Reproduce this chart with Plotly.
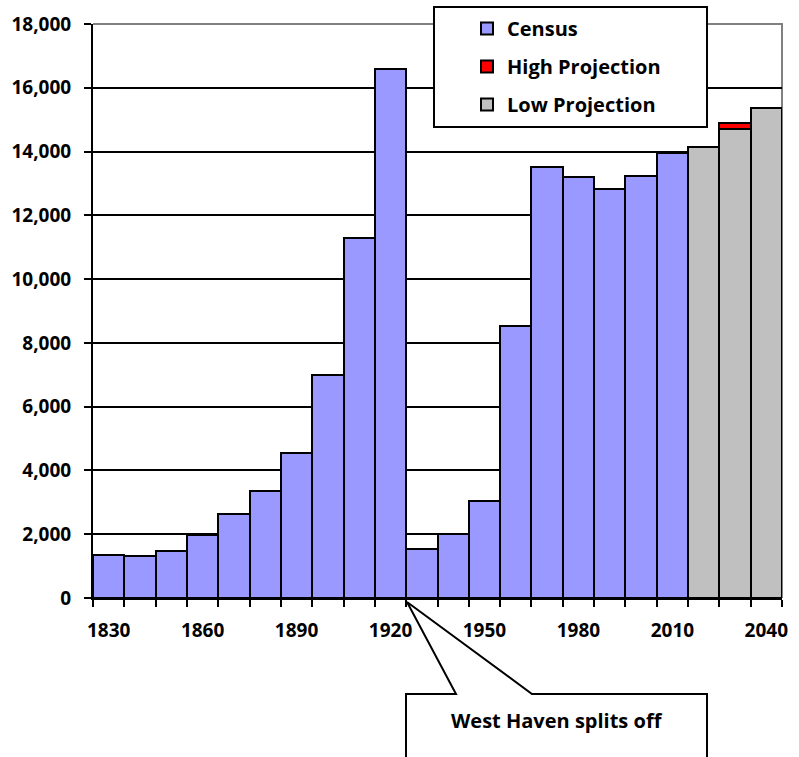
import plotly.graph_objects as go

# Population by decade (census through 2010, projections after)
census_years = [1830, 1840, 1850, 1860, 1870, 1880, 1890, 1900, 1910, 1920,
                1930, 1940, 1950, 1960, 1970, 1980, 1990, 2000, 2010]
census_pop = [1350, 1320, 1480, 1970, 2640, 3340, 4540, 6990, 11280, 16600,
              1530, 2000, 3030, 8540, 13510, 13210, 12820, 13220, 13960]

proj_years = [2020, 2030, 2040]
high_proj = [14140, 14900, 15380]
low_proj = [14140, 14700, 15380]

label_years = [1830, 1860, 1890, 1920, 1950, 1980, 2010, 2040]
y_ticks = list(range(0, 18001, 2000))

FONT = "Open Sans"
FS_TICK = 19
FS_TEXT = 20
outline = dict(color="black", width=2)

fig = go.Figure()
fig.add_trace(go.Bar(x=census_years, y=census_pop, name="Census", width=10,
                     marker=dict(color="#9999FF", line=outline),
                     legendgroup="a"))
fig.add_trace(go.Bar(x=proj_years, y=high_proj, name="High Projection", width=10,
                     marker=dict(color="#FF0000", line=outline),
                     legendgroup="b"))
fig.add_trace(go.Bar(x=proj_years, y=low_proj, name="Low Projection", width=10,
                     marker=dict(color="#C0C0C0", line=outline),
                     legendgroup="c"))

W, H = 799, 757
L, R, T, B = 93, 17, 24, 159
pw, ph = W - L - R, H - T - B


def px(xp):
    return (xp - L) / pw


def py(yp):
    return (H - B - yp) / ph


fig.update_layout(
    width=W, height=H,
    margin=dict(l=L, r=R, t=T, b=B, autoexpand=False),
    paper_bgcolor="white", plot_bgcolor="white",
    barmode="overlay", bargap=0,
    font=dict(family=FONT, size=FS_TICK, color="black", weight="bold"),
    showlegend=True,
    legend=dict(x=px(467), y=py(9), xanchor="left", yanchor="top",
                bgcolor="rgba(0,0,0,0)", borderwidth=0,
                tracegroupgap=9, traceorder="grouped",
                font=dict(family=FONT, size=FS_TEXT, weight="bold")),
    xaxis=dict(range=[1825, 2045], showgrid=False, zeroline=False,
               automargin=False,
               showline=True, linecolor="black", linewidth=2,
               tickmode="array", tickvals=label_years,
               ticktext=[str(v) for v in label_years],
               ticks="", ticklabelstandoff=14,
               tickfont=dict(size=FS_TICK),
               minor=dict(tick0=1825, dtick=10, ticks="outside", ticklen=7,
                          tickwidth=2, tickcolor="black", showgrid=False)),
    yaxis=dict(range=[0, 18000], tickmode="array", tickvals=y_ticks,
               tickformat=",d", showgrid=True, gridcolor="black", gridwidth=2,
               automargin=False, tickfont=dict(size=FS_TICK),
               zeroline=False, showline=True, linecolor="black", linewidth=2,
               ticks="outside", ticklen=7, tickwidth=2, tickcolor="black",
               ticklabelstandoff=9),
)

shapes = []
# gray plot-area frame on top and right
shapes.append(dict(type="path", xref="paper", yref="paper",
                   path="M 0,1 L 1,1 L 1,0", layer="below",
                   line=dict(color="#808080", width=2)))
# legend frame
shapes.append(dict(type="rect", xref="paper", yref="paper",
                   x0=px(434), x1=px(707), y0=py(127), y1=py(7),
                   fillcolor="white", line=dict(color="black", width=2),
                   layer="above"))
# callout box pointing at the 1920/1930 boundary
tip = (px(407), py(602))
callout = (f"M {px(406)},{py(790)} L {px(406)},{py(694)} L {px(456)},{py(694)} "
           f"L {tip[0]},{tip[1]} L {px(532)},{py(694)} L {px(707)},{py(694)} "
           f"L {px(707)},{py(790)} Z")
shapes.append(dict(type="path", xref="paper", yref="paper", path=callout,
                   fillcolor="white", line=dict(color="black", width=2),
                   layer="above"))
fig.update_layout(shapes=shapes)

fig.add_annotation(x=px(557), y=py(720), xref="paper", yref="paper",
                   xanchor="center", yanchor="middle",
                   text="West Haven splits off", showarrow=False,
                   font=dict(family=FONT, size=FS_TEXT, weight="bold"))

fig.write_html("out.html")
